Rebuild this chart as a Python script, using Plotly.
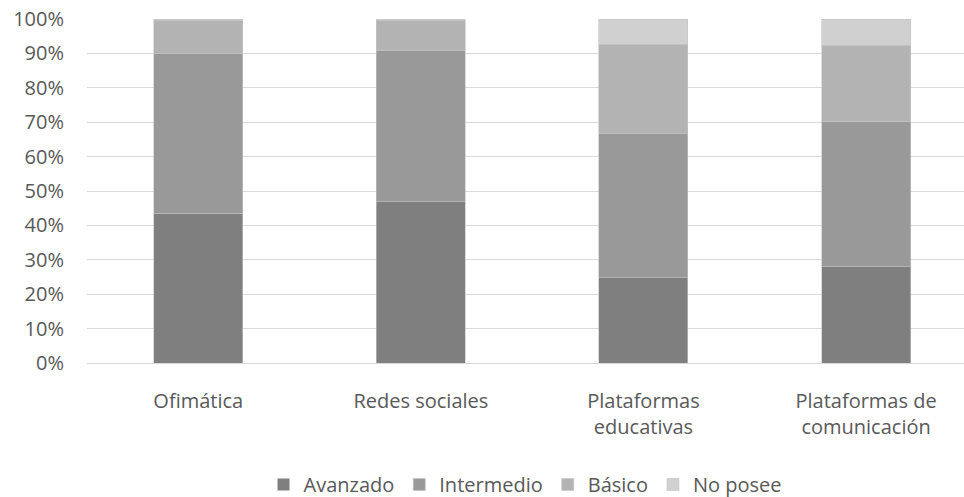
import plotly.graph_objects as go

# Share of respondents by skill level in each tool category (percent)
categories = ["Ofimática", "Redes sociales", "Plataformas<br>educativas", "Plataformas de<br>comunicación"]
avanzado = [43.5, 46.9, 24.8, 28.0]
intermedio = [46.5, 43.9, 42.0, 42.1]
basico = [9.6, 8.9, 25.9, 22.3]
no_posee = [0.4, 0.3, 7.3, 7.6]

series = [
    ("Avanzado", avanzado, "#7f7f7f"),
    ("Intermedio", intermedio, "#999999"),
    ("Básico", basico, "#b3b3b3"),
    ("No posee", no_posee, "#d0d0d0"),
]

font_family = "Open Sans, Noto Sans, sans-serif"
text_color = "#595959"
font_size = 20

fig = go.Figure()
for name, values, color in series:
    fig.add_trace(go.Bar(
        name=name,
        x=categories,
        y=[v / 100 for v in values],
        marker=dict(color=color, line=dict(color="#c4c4c4", width=0.6)),
        width=0.4,
    ))

fig.update_layout(
    barmode="stack",
    width=964,
    height=497,
    margin=dict(l=87, r=0, t=19, b=134, autoexpand=False),
    paper_bgcolor="white",
    plot_bgcolor="white",
    font=dict(family=font_family, size=font_size, color=text_color),
    showlegend=True,
    legend=dict(
        orientation="h",
        x=0.5,
        xanchor="center",
        y=-0.41,
        yanchor="bottom",
        font=dict(family=font_family, size=font_size, color=text_color),
        itemwidth=30,
        traceorder="normal",
    ),
    xaxis=dict(
        range=[-0.5, 3.44],
        showgrid=False,
        showline=False,
        ticks="",
        ticklabelstandoff=24,
        tickfont=dict(family=font_family, size=font_size, color=text_color),
    ),
    yaxis=dict(
        range=[0, 1.0],
        tickvals=[i / 10 for i in range(11)],
        tickformat=".0%",
        showgrid=True,
        gridcolor="#d9d9d9",
        gridwidth=1,
        zeroline=True,
        zerolinecolor="#d9d9d9",
        zerolinewidth=1,
        ticks="",
        ticklabelstandoff=22,
        tickfont=dict(family=font_family, size=font_size, color=text_color),
    ),
)

fig.write_html("out.html")
